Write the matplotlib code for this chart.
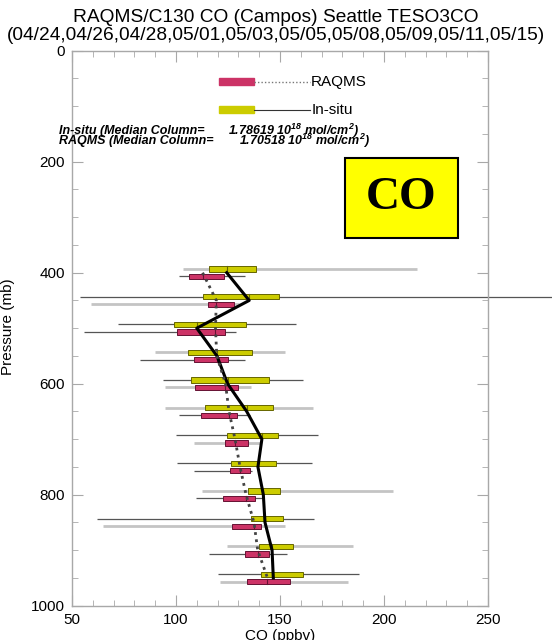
import numpy as np
import matplotlib
matplotlib.use("Agg")
import matplotlib.pyplot as plt
from matplotlib.patches import Rectangle

plt.rcParams['font.family'] = ['Liberation Sans', 'DejaVu Sans']
plt.rcParams['mathtext.fontset'] = 'custom'
plt.rcParams['mathtext.rm'] = 'Liberation Sans:bold:italic'
plt.rcParams['mathtext.it'] = 'Liberation Sans:bold:italic'
plt.rcParams['mathtext.bf'] = 'Liberation Sans:bold:italic'

# pressure levels (mb)
levels = [400, 450, 500, 550, 600, 650, 700, 750, 800, 850, 900, 950]

# in-situ CO statistics per level (ppbv)
insitu_med = [124.4, 135.2, 110.0, 119.7, 124.8, 134.0, 141.3, 139.4, 142.0, 142.8, 146.2, 146.8]
insitu_q1 = [116.0, 112.8, 99.0, 105.9, 107.4, 114.1, 124.7, 126.4, 134.8, 136.2, 140.0, 140.7]
insitu_q3 = [138.5, 149.5, 133.5, 136.4, 144.7, 146.5, 148.9, 148.2, 150.0, 151.6, 156.1, 161.2]
insitu_lo = [103.5, 54.0, 72.0, 89.8, 93.9, 94.7, 100.0, 100.3, 112.4, 62.0, 124.4, 120.0]
insitu_hi = [216.0, 290.0, 157.5, 152.4, 161.2, 165.9, 168.1, 165.2, 204.5, 166.5, 185.2, 187.8]

# RAQMS CO statistics per level (ppbv)
raqms_med = [112.8, 119.4, 119.0, 119.6, 123.8, 125.5, 128.4, 130.8, 133.7, 137.5, 139.3, 144.0]
raqms_q1 = [106.4, 115.5, 100.6, 108.5, 109.1, 112.2, 123.6, 125.8, 122.6, 127.1, 133.0, 134.0]
raqms_q3 = [123.1, 127.9, 123.7, 124.9, 130.0, 129.3, 134.8, 135.4, 137.8, 140.7, 144.6, 155.0]
raqms_lo = [101.6, 59.0, 56.0, 82.7, 94.6, 101.6, 108.7, 108.7, 109.6, 65.0, 115.7, 121.0]
raqms_hi = [133.2, 130.4, 128.7, 133.2, 135.9, 135.6, 140.4, 136.5, 141.2, 152.4, 153.5, 182.8]

# which whiskers are drawn dark/thin instead of light/thick
insitu_dark = [False, True, True, False, True, False, True, True, False, True, False, True]
raqms_dark = [True, False, True, True, False, True, False, True, True, False, True, False]

insitu_col = '#cccc00'
raqms_col = '#cc3366'
axis_col = '#a8a8a8'

fig = plt.figure(figsize=(5.52, 6.40), dpi=100)
ax = fig.add_axes([0.1304, 0.0536, 0.7536, 0.8672])

lev = np.array(levels, dtype=float)
off = 6.7
bh = 9.5


def draw_boxes(y, lo, hi, q1, q3, med, dark, color, edge):
    for yi, a, b, c, d, m, dk in zip(y, lo, hi, q1, q3, med, dark):
        if dk:
            ax.plot([a, b], [yi, yi], color='#555555', lw=0.9, zorder=2,
                    clip_on=False, solid_capstyle='butt')
        else:
            ax.plot([a, b], [yi, yi], color='#c4c4c4', lw=2.0, zorder=1,
                    clip_on=False, solid_capstyle='butt')
        ax.barh(yi, d - c, left=c, height=bh, color=color, edgecolor=edge,
                linewidth=0.7, zorder=3)
        ax.plot([m, m], [yi - bh / 2, yi + bh / 2], color=edge, lw=0.8, zorder=4)


draw_boxes(lev - off, insitu_lo, insitu_hi, insitu_q1, insitu_q3, insitu_med,
           insitu_dark, insitu_col, '#666600')
draw_boxes(lev + off, raqms_lo, raqms_hi, raqms_q1, raqms_q3, raqms_med,
           raqms_dark, raqms_col, '#661133')

# median profiles
ax.plot(insitu_med, lev, color='black', lw=2.2, zorder=5)
ax.plot(raqms_med, lev, color='#444444', lw=2.0, linestyle=(0, (1, 1.6)), zorder=5)

ax.set_xlim(50, 250)
ax.set_ylim(1000, 0)
ax.set_xticks(np.arange(50, 251, 50))
ax.set_xticks(np.arange(50, 251, 10), minor=True)
ax.set_yticks(np.arange(0, 1001, 200))
ax.set_yticks(np.arange(0, 1001, 50), minor=True)
ax.tick_params(which='both', direction='in', top=True, right=True,
               color=axis_col, labelsize=11, pad=5)
ax.tick_params(which='major', length=8)
ax.tick_params(which='minor', length=4)
for sp in ax.spines.values():
    sp.set_color(axis_col)
    sp.set_linewidth(1.0)

ax.set_ylabel('Pressure (mb)', fontsize=11)
ax.yaxis.set_label_coords(-0.137, 0.502)
fig.text(0.507, 1 - 629 / 640, 'CO (ppbv)', fontsize=11, ha='center', va='top')

fig.text(0.5, 1 - 17 / 640, 'RAQMS/C130 CO (Campos) Seattle TESO3CO',
         fontsize=13.8, ha='center', va='center')
fig.text(0.5, 1 - 36 / 640,
         '(04/24,04/26,04/28,05/01,05/03,05/05,05/08,05/09,05/11,05/15)',
         fontsize=13.8, ha='center', va='center')

# legend
tr = ax.transAxes
ax.add_patch(Rectangle((0.353, 0.938), 0.085, 0.012, transform=tr,
                       color=raqms_col, clip_on=False))
ax.plot([0.438, 0.572], [0.944, 0.944], transform=tr, color='#777777', lw=1.0,
        linestyle=(0, (1, 1.5)), clip_on=False)
ax.text(0.575, 0.944, 'RAQMS', transform=tr, fontsize=11, va='center')
ax.add_patch(Rectangle((0.353, 0.888), 0.085, 0.012, transform=tr,
                       color=insitu_col, clip_on=False))
ax.plot([0.438, 0.572], [0.894, 0.894], transform=tr, color='#333333', lw=0.8,
        clip_on=False)
ax.text(0.575, 0.894, 'In-situ', transform=tr, fontsize=11, va='center')

# median column amounts
bi = dict(fontsize=9, fontweight='bold', fontstyle='italic', va='center')
fig.text(59 / 552, 1 - 131 / 640, 'In-situ (Median Column=', **bi)
fig.text(228 / 552, 1 - 131 / 640, r'1.78619 10$^{18}$ mol/cm$^{2}$)', **bi)
fig.text(59 / 552, 1 - 141 / 640, 'RAQMS (Median Column=', **bi)
fig.text(239 / 552, 1 - 141 / 640, r'1.70518 10$^{18}$ mol/cm$^{2}$)', **bi)

# species box
ax.add_patch(Rectangle((0.656, 0.663), 0.2725, 0.143, transform=tr,
                       facecolor='#ffff00', edgecolor='black', lw=1.5, zorder=6))
ax.text(0.792, 0.7345, 'CO', transform=tr, fontsize=34, fontweight='bold',
        family='Liberation Serif', ha='center', va='center', zorder=7)

fig.savefig('out.png', dpi=100)
